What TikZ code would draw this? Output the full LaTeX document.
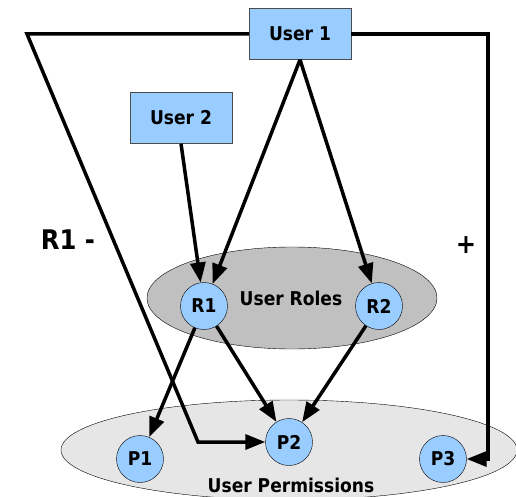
\documentclass[tikz,border=0pt]{standalone}
\usepackage{fontspec}
\setmainfont{DejaVu Sans Condensed}
\usepackage{tikz}
\usetikzlibrary{shapes,arrows.meta}

\definecolor{userblue}{HTML}{99CCFF}
\definecolor{rolegray}{HTML}{C0C0C0}
\definecolor{permgray}{HTML}{E6E6E6}

\begin{document}
\begin{tikzpicture}[x=1pt,y=-1pt,
      every node/.style={font=\fontsize{19}{22}\selectfont\bfseries},
      userbox/.style={rectangle,draw=black!70,fill=userblue,minimum width=102pt,minimum height=51pt},
      item/.style={circle,draw,fill=userblue,minimum size=47pt,inner sep=0pt},
      roleset/.style={ellipse,draw,fill=rolegray,minimum width=290pt,minimum height=102pt},
      permset/.style={ellipse,draw,fill=permgray,minimum width=456pt,minimum height=100pt},
      link/.style={line width=3.5pt,-{Triangle[length=20pt,width=15pt]}},
      sign/.style={font=\fontsize{27}{30}\selectfont\bfseries}]
    \useasboundingbox (0,0) rectangle (516,497);
    \node[permset] (perms) at (289,450) {};
    \node[roleset] (roles) at (292,298) {};
    \node (rolestext) at (291,298) {User Roles};
    \node (permstext) at (291,485) {User Permissions};
    \node[userbox] (u1) at (300,34) {User 1};
    \node[userbox] (u2) at (181,118) {User 2};
    \node[item] (r1) at (204,306) {R1};
    \node[item] (r2) at (379,306) {R2};
    \node[item] (p1) at (140,459) {P1};
    \node[item] (p2) at (289,442) {P2};
    \node[item] (p3) at (443,459) {P3};
    \coordinate (tl) at (27,34);
    \coordinate (bl) at (198,442);
    \coordinate (tr) at (488,34);
    \coordinate (br) at (488,459);
    \draw[link,line join=miter] (u1.west) -- (tl) -- (bl) -- (p2);
    \draw[link,line join=miter] (u1.east) -- (tr) -- (br) -- (p3);
    \draw[link] (u1.south) -- (r1);
    \draw[link] (u1.south) -- (r2);
    \draw[link] (u2.south) -- (r1);
    \draw[link] (r1) -- (p1);
    \draw[link] (r1) -- (p2);
    \draw[link] (r2) -- (p2);
    \node[sign] (minus) at (68,240) {R1 -};
    \node[sign] (plus) at (466,245) {+};
  \end{tikzpicture}
\end{document}
